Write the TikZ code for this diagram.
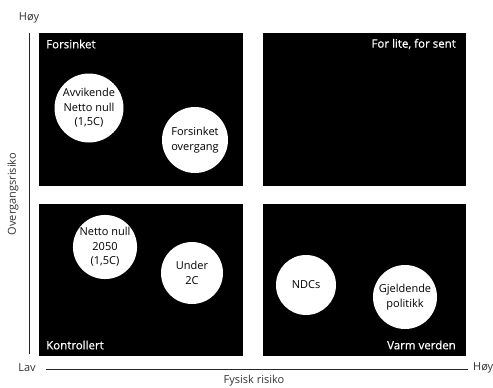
\documentclass[tikz,border=0pt]{standalone}
\usepackage{fontspec}
\setmainfont{Open Sans}
\newfontfamily\semifont{Open Sans}[FakeBold=0.6]
\begin{document}
\begin{tikzpicture}[x=1pt,y=-1pt,
  quad/.style={fill=black,draw=none},
  qlabel/.style={text=white,font=\semifont\fontsize{11.5}{13}\selectfont,inner sep=0pt},
  bubble/.style={circle,fill=white,draw=none,align=center,inner sep=0pt,font=\fontsize{11}{14.5}\selectfont},
  axis/.style={draw=black!85,line width=1pt},
  axlabel/.style={font=\fontsize{11}{13}\selectfont,text=black!80,inner sep=0pt}]
\useasboundingbox (0,0) rectangle (493,388);
% quadrants
\fill[quad] (39,33) rectangle (243,186);
\fill[quad] (263,33) rectangle (466,186);
\fill[quad] (39,204) rectangle (243,356);
\fill[quad] (263,204) rectangle (466,356);
% quadrant labels
\node[qlabel,anchor=west] (q1) at (46,44) {Forsinket};
\node[qlabel,anchor=east] (q2) at (456,44) {For lite, for sent};
\node[qlabel,anchor=west] (q3) at (46,345) {Kontrollert};
\node[qlabel,anchor=east] (q4) at (456,345) {Varm verden};
% bubbles
\node[bubble,minimum size=69] (b1) at (89,108) {Avvikende\\Netto null\\(1,5C)};
\node[bubble,minimum size=66] (b2) at (195,140) {Forsinket\\overgang};
\node[bubble,minimum size=62] (b3) at (105,247) {Netto null\\2050\\(1,5C)};
\node[bubble,minimum size=62] (b4) at (192,273) {Under\\2C};
\node[bubble,minimum size=60] (b5) at (306,285) {NDCs};
\node[bubble,minimum size=64] (b6) at (405,297) {Gjeldende\\politikk};
% axes
\coordinate (vtop) at (29,33);
\coordinate (vbot) at (29,354);
\coordinate (hl) at (46,369);
\coordinate (hr) at (468,369);
\draw[axis] (vtop) -- (vbot);
\draw[axis] (hl) -- (hr);
\node[axlabel] (hoyv) at (29,18) {Høy};
\node[axlabel] (lav) at (27,368) {Lav};
\node[axlabel,anchor=west] (hoyh) at (473,368) {Høy};
\node[axlabel] (fys) at (254,381) {Fysisk risiko};
\node[axlabel,rotate=90] (ovg) at (13,194) {Overgangsrisiko};
\end{tikzpicture}
\end{document}
